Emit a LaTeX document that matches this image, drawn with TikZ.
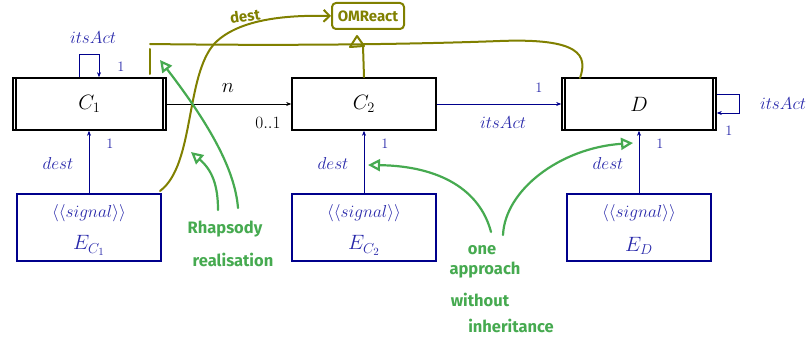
\documentclass[tikz,border=0pt]{standalone}
\usepackage{fontspec}
\newfontfamily\hand{Fira Sans}
\usetikzlibrary{arrows.meta}
\definecolor{navy}{RGB}{0,0,140}
\definecolor{lblue}{RGB}{40,40,170}
\definecolor{olivec}{RGB}{128,128,0}
\definecolor{greenc}{RGB}{70,170,80}
\begin{document}
\begin{tikzpicture}[x=1pt,y=-1pt,
  cls/.style={draw, line width=1.6pt, minimum height=52pt, inner sep=0pt, font=\fontsize{21}{24}\selectfont},
  sig/.style={draw=navy, line width=1.4pt, minimum width=144pt, minimum height=67pt, inner sep=0pt},
  sigtxt/.style={text=lblue, inner sep=0pt},
  lab/.style={text=lblue, inner sep=0pt, font=\fontsize{17}{20}\selectfont},
  mult/.style={text=lblue, inner sep=0pt, font=\fontsize{15}{17}\selectfont},
  blk/.style={text=black, inner sep=0pt, font=\fontsize{16}{18}\selectfont},
  assoc/.style={-{Stealth[length=5pt,width=4pt]}, line width=0.6pt},
  olv/.style={draw=olivec, line width=2pt, line cap=round, line join=round},
  grn/.style={draw=greenc, line width=2.2pt, line cap=round, line join=round},
  grnarr/.style={grn, -{Triangle[open, length=12pt, width=12pt, line width=2.2pt]}},
  handg/.style={text=greenc, inner sep=0pt, font=\hand\bfseries\fontsize{16.5}{18}\selectfont},
  bar/.style={line width=1.6pt}
]
\useasboundingbox (0,0) rectangle (810,337);

% classes
\node[cls, minimum width=153pt] (C1) at (89.5,104) {$C_1$};
\node[cls, minimum width=144pt] (C2) at (364,104) {$C_2$};
\node[cls, minimum width=154pt] (D) at (639,104) {$D$};
\draw[bar] ([xshift=4pt]C1.north west) -- ([xshift=4pt]C1.south west);
\draw[bar] ([xshift=-4pt]C1.north east) -- ([xshift=-4pt]C1.south east);
\draw[bar] ([xshift=4pt]D.north west) -- ([xshift=4pt]D.south west);
\draw[bar] ([xshift=-4pt]D.north east) -- ([xshift=-4pt]D.south east);

% signals
\node[sig] (EC1) at (89,227.5) {};
\node[sig] (EC2) at (364,227.5) {};
\node[sig] (ED) at (639,227.5) {};
\foreach \n/\e in {EC1/{E_{C_1}},EC2/{E_{C_2}},ED/{E_D}} {
  \node[sigtxt, font=\fontsize{17}{20}\selectfont] (\n s) at ([yshift=14pt]\n.center) {$\langle\langle signal\rangle\rangle$};
  \node[sigtxt, font=\fontsize{21}{24}\selectfont] (\n e) at ([yshift=-18pt]\n.center) {$\e$};
}

% associations
\draw[assoc] (C1.east) -- (C2.west);
\node[blk, font=\fontsize{20}{22}\selectfont] (ln) at (228,88) {$n$};
\node[blk] (l01) at (268,123) {$0..1$};
\draw[assoc, draw=navy] (C2.east) -- (D.west);
\node[mult] (m2) at (539,88) {$1$};
\node[lab] (ia2) at (503,123) {$itsAct$};

\draw[assoc, draw=navy] (EC1.north) -- (EC1.north |- C1.south);
\draw[assoc, draw=navy] (EC2.north) -- (C2.south);
\draw[assoc, draw=navy] (ED.north) -- (D.south);
\node[lab] (d1) at (58,163) {$dest$};
\node[lab] (d2) at (333,163) {$dest$};
\node[lab] (d3) at (608,163) {$dest$};
\node[mult] (m1) at (110,144) {$1$};
\node[mult] (m3) at (385,144) {$1$};
\node[mult] (m4) at (660,144) {$1$};

% self loops
\draw[assoc, draw=navy] ([xshift=-10.5pt]C1.north) -- ++(0,-23) -- ++(20,0) -- ([xshift=9.5pt]C1.north);
\node[lab] (ia1) at (93,38) {$itsAct$};
\node[mult] (m5) at (121,67) {$1$};
\draw[assoc, draw=navy] ([yshift=10pt]D.east) -- ++(22,0) -- ++(0,19) -- ([yshift=-9pt]D.east);
\node[lab] (ia3) at (783,104) {$itsAct$};
\node[mult] (m6) at (729,131) {$1$};

% olive annotations
\node[olv, rounded corners=4pt, minimum width=72pt, minimum height=26pt, inner sep=0pt, text=olivec, font=\hand\bfseries\fontsize{15}{17}\selectfont] (omr) at (368,16) {OMReact};
\draw[olv] (150,49) -- (150,74);
\draw[olv] (150,44) .. controls (300,46) and (420,44) .. (500,41) .. controls (580,38) and (588,55) .. (580,78);
\draw[olv] (C2.north) -- (363,46);
\draw[olv] (350,47) -- (357,36) -- (364,46) -- cycle;
\draw[olv, -{Straight Barb[length=6pt,width=12pt]}] (160,191) .. controls (195,165) and (185,75) .. (215,43) .. controls (240,18) and (290,15) .. (omr.west);
\node[text=olivec, inner sep=0pt, rotate=8, font=\hand\bfseries\fontsize{15}{17}\selectfont] (od) at (245,16) {dest};

% green annotations
\draw[grnarr] (238,208) .. controls (235,170) and (210,125) .. (160,60);
\draw[grnarr] (218,210) .. controls (218,185) and (212,170) .. (191,152);
\node[handg] (t1) at (225,229) {Rhapsody};
\node[handg] (t2) at (233,260) {realisation};
\draw[grnarr] (491,232) .. controls (480,190) and (440,166) .. (368,165);
\draw[grnarr] (503,235) .. controls (505,190) and (560,148) .. (633,143);
\node[handg] (t3) at (482,250) {one};
\node[handg] (t4) at (485,270) {approach};
\node[handg] (t5) at (480,300) {without};
\node[handg] (t6) at (511,326) {inheritance};
\end{tikzpicture}
\end{document}
